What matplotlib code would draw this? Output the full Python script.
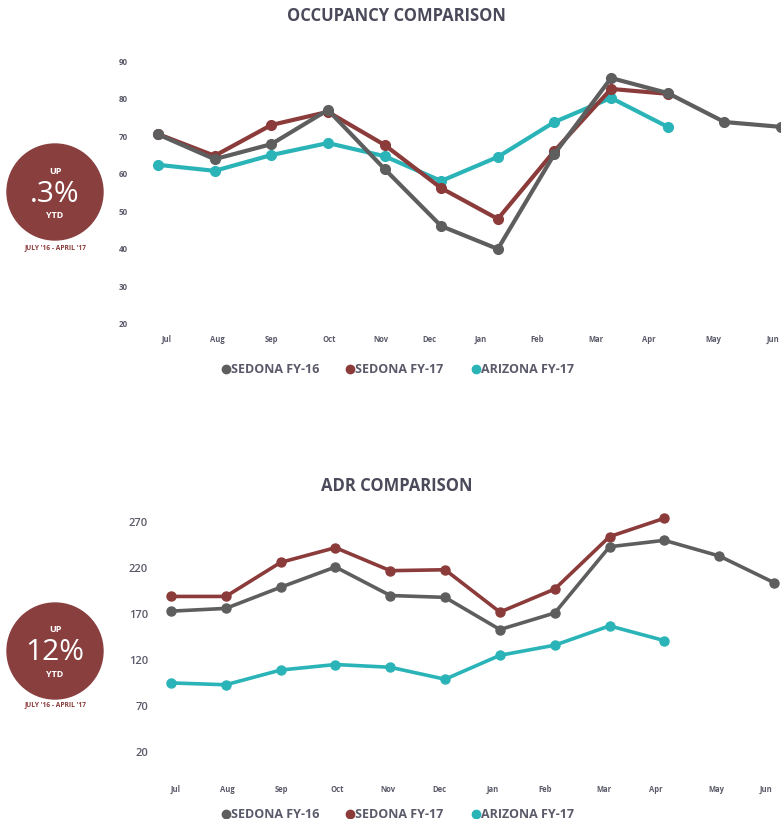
import matplotlib
matplotlib.use("Agg")
import matplotlib.pyplot as plt
from matplotlib.patches import Circle
import numpy as np

months = ["Jul", "Aug", "Sep", "Oct", "Nov", "Dec", "Jan", "Feb", "Mar", "Apr", "May", "Jun"]

# occupancy (%)
occ_sedona16 = [70.2, 63.6, 67.6, 76.7, 61.0, 45.8, 39.7, 65.0, 85.2, 81.2, 73.5, 72.2]
occ_sedona17 = [70.3, 64.5, 72.7, 76.2, 67.4, 55.9, 47.7, 65.8, 82.3, 81.0]
occ_arizona17 = [62.1, 60.5, 64.7, 67.9, 64.4, 57.8, 64.2, 73.5, 79.9, 72.2]

# ADR ($)
adr_sedona16 = [172, 175, 198, 220, 189, 187, 152, 170, 242, 249, 232, 203]
adr_sedona17 = [188, 188, 225, 241, 216, 217, 171, 196, 253, 273]
adr_arizona17 = [94, 92, 108, 114, 111, 98, 124, 135, 156, 140]

occ_ticks = [20, 30, 40, 50, 60, 70, 80, 90]
adr_ticks = [20, 70, 120, 170, 220, 270]

GRAY = "#5e5e5e"
RED = "#8b3b3a"
TEAL = "#2ab4b8"
TXT = "#5a5a6a"
FONT = "Open Sans"

W, H = 781, 820
fig = plt.figure(figsize=(W / 100, H / 100), dpi=100)
fig.patch.set_facecolor("white")


def px_axes(left, top, right, bottom):
    return fig.add_axes([left / W, 1 - bottom / H, (right - left) / W, (bottom - top) / H])


def style(ax, yticks, ysize, weight):
    for s in ax.spines.values():
        s.set_visible(False)
    ax.tick_params(length=0)
    ax.set_yticks(yticks)
    ax.set_yticklabels([str(t) for t in yticks], fontsize=ysize, color=TXT,
                       family=FONT, fontweight=weight)


# ---- occupancy chart ----
# point spacing 56.64px, idx0 at x=158
ax1 = px_axes(140, 45, 781, 335)
ax1.set_xlim(-18 / 56.64, 11)
ax1.set_ylim(20 - 11 / 3.757, 90 + 16 / 3.757)
style(ax1, occ_ticks, 5.8, "bold")
ax1.tick_params(axis="y", pad=9)
x16 = np.arange(len(occ_sedona16))
x17 = np.arange(len(occ_sedona17))
ax1.plot(x17, occ_arizona17, color=TEAL, lw=3, marker="o", ms=7, clip_on=False, zorder=3)
ax1.plot(x17, occ_sedona17, color=RED, lw=3, marker="o", ms=7, clip_on=False, zorder=4)
ax1.plot(x16, occ_sedona16, color=GRAY, lw=3, marker="o", ms=7, clip_on=False, zorder=5)
ax1.set_xticks([0.16, 1.04, 2.01, 3.02, 3.94, 4.8, 5.7, 6.69, 7.73, 8.67, 9.8, 10.86])
ax1.set_xticklabels(months, fontsize=5.5, color=TXT, family=FONT, fontweight="bold")
ax1.tick_params(axis="x", pad=0)

# ---- ADR chart ----
# point spacing 54.8px, idx0 at x=171
ax2 = px_axes(155, 505, 781, 770)
ax2.set_xlim(-16 / 54.8, 11 + 7 / 54.8)
ax2.set_ylim(20 - 18 / 0.92, 270 + 17 / 0.92)
style(ax2, adr_ticks, 8, "semibold")
ax2.tick_params(axis="y", pad=5)
ax2.plot(x17, adr_arizona17, color=TEAL, lw=2.6, marker="o", ms=6.5, clip_on=False, zorder=3)
ax2.plot(x17, adr_sedona17, color=RED, lw=2.6, marker="o", ms=6.5, clip_on=False, zorder=4)
ax2.plot(x16, adr_sedona16, color=GRAY, lw=2.6, marker="o", ms=6.5, clip_on=False, zorder=5)
ax2.set_xticks([0.09, 1.02, 2.02, 3.04, 3.96, 4.9, 5.87, 6.82, 7.9, 8.85, 9.94, 10.85])
ax2.set_xticklabels(months, fontsize=5.5, color=TXT, family=FONT, fontweight="bold")
ax2.tick_params(axis="x", pad=11)

# ---- overlay: titles, badges, legends ----
ov = fig.add_axes([0, 0, 1, 1])
ov.set_xlim(0, W)
ov.set_ylim(H, 0)
ov.axis("off")
ov.patch.set_alpha(0)

ov.text(396, 16, "OCCUPANCY COMPARISON", ha="center", va="center", fontsize=12,
        fontweight="bold", color="#4a4a5a", family=FONT)
ov.text(397, 486, "ADR COMPARISON", ha="center", va="center", fontsize=12,
        fontweight="bold", color="#4a4a5a", family=FONT)


def badge(cy, big, date_y):
    ov.add_patch(Circle((55, cy), 48, color="#8a3f3f", zorder=1))
    ov.text(55, cy - 22, "UP", ha="center", va="center", color="white", fontsize=6.5,
            fontweight="bold", family=FONT)
    ov.text(55, cy + 1, big, ha="center", va="center", color="white", fontsize=21.5,
            family=FONT)
    ov.text(55, cy + 23, "YTD", ha="center", va="center", color="white", fontsize=6.5,
            fontweight="bold", family=FONT)
    ov.text(55, date_y, "JULY '16 - APRIL '17", ha="center", va="center", color=RED,
            fontsize=4.8, fontweight="bold", family=FONT)


badge(193, ".3%", 248)
badge(652, "12%", 705)


def legend(y, size):
    items = [(226, "SEDONA FY-16", GRAY), (350, "SEDONA FY-17", RED), (476, "ARIZONA FY-17", TEAL)]
    for x, label, c in items:
        ov.plot([x], [y], "o", color=c, ms=6)
        ov.text(x + 5, y, label, ha="left", va="center", fontsize=size, fontweight="bold",
                color=TXT, family=FONT)


legend(370, 9)
legend(815, 9)

fig.savefig("out.png", dpi=100, facecolor="white")
